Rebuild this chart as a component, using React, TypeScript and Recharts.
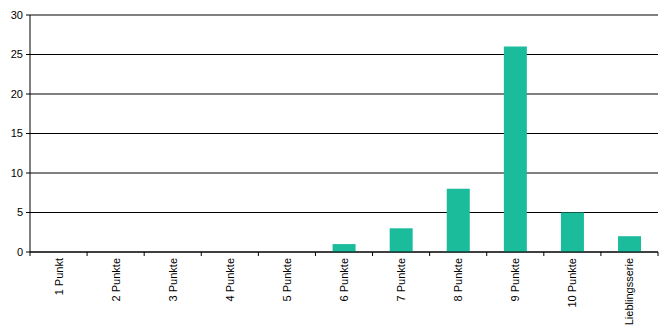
import { BarChart, Bar, XAxis, YAxis, CartesianGrid } from "recharts";

// Kategorien und Werte
const categories = ["1 Punkt", "2 Punkte", "3 Punkte", "4 Punkte", "5 Punkte", "6 Punkte", "7 Punkte", "8 Punkte", "9 Punkte", "10 Punkte", "Lieblingsserie"];
const counts = [0, 0, 0, 0, 0, 1, 3, 8, 26, 5, 2];
const yTicks = [0, 5, 10, 15, 20, 25, 30];

const WIDTH = 670;
const HEIGHT = 330;
const MARGIN = { top: 15, right: 12, bottom: 0, left: 0 };
const Y_AXIS_WIDTH = 30;
const PLOT_WIDTH = WIDTH - MARGIN.left - MARGIN.right - Y_AXIS_WIDTH;
const BAND = PLOT_WIDTH / categories.length;

const FONT = "'Liberation Sans', Arial, sans-serif";

const data = categories.map((name, i) => ({ name, value: counts[i] }));

// Beschriftung gedreht, Teilstriche an den Kategoriegrenzen
function CategoryTick(props: any) {
  const { x, y, payload, index } = props;
  const left = x - BAND / 2;
  return (
    <g>
      <line x1={left} y1={y} x2={left} y2={y + 4} stroke="#000" />
      {index === categories.length - 1 && (
        <line x1={x + BAND / 2} y1={y} x2={x + BAND / 2} y2={y + 4} stroke="#000" />
      )}
      <text
        x={0}
        y={0}
        transform={`translate(${x},${y + 6}) rotate(-90)`}
        textAnchor="end"
        dominantBaseline="central"
        fontSize={11}
        fontFamily={FONT}
        fill="#000"
      >
        {payload.value}
      </text>
    </g>
  );
}

export default function App() {
  return (
    <div style={{ position: "absolute", left: 0, top: 0, width: WIDTH, height: HEIGHT, background: "#fff" }}>
      <BarChart width={WIDTH} height={HEIGHT} data={data} margin={MARGIN} barCategoryGap="30%">
        <CartesianGrid vertical={false} stroke="#000" strokeDasharray="" />
        <XAxis
          dataKey="name"
          interval={0}
          height={HEIGHT - 252 - MARGIN.bottom}
          axisLine={{ stroke: "#000" }}
          tickLine={false}
          tickSize={0}
          tickMargin={0}
          tick={<CategoryTick />}
        />
        <YAxis
          width={Y_AXIS_WIDTH}
          domain={[0, 30]}
          ticks={yTicks}
          interval={0}
          axisLine={{ stroke: "#000" }}
          tickLine={{ stroke: "#000" }}
          tickSize={4}
          tickMargin={3}
          tick={{ fontSize: 11, fontFamily: FONT, fill: "#000" }}
        />
        <Bar dataKey="value" fill="#1abc9c" isAnimationActive={false} />
      </BarChart>
    </div>
  );
}
